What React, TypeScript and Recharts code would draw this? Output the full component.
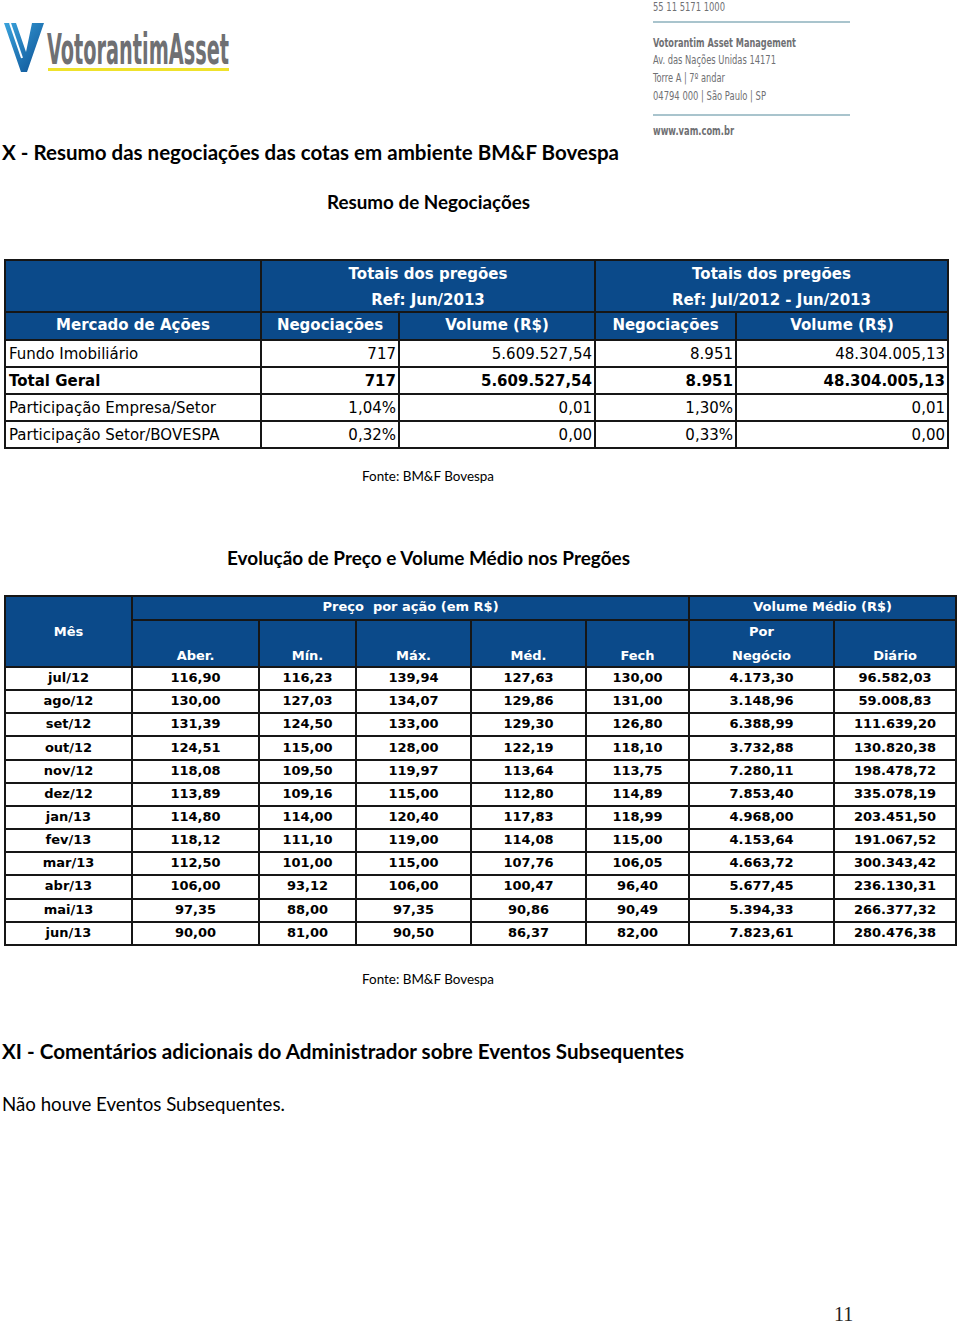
import React from 'react';
import { Surface } from 'recharts';

// --- data ---
const resumoCols = ['Negociações', 'Volume (R$)', 'Negociações', 'Volume (R$)'];
const resumoGroups = [
  ['Totais dos pregões', 'Ref: Jun/2013'],
  ['Totais dos pregões', 'Ref: Jul/2012 - Jun/2013'],
];
const resumoLabels = ['Fundo Imobiliário', 'Total Geral', 'Participação Empresa/Setor', 'Participação Setor/BOVESPA'];
const resumoBold = [false, true, false, false];
const resumoValues = [
  ['717', '5.609.527,54', '8.951', '48.304.005,13'],
  ['717', '5.609.527,54', '8.951', '48.304.005,13'],
  ['1,04%', '0,01', '1,30%', '0,01'],
  ['0,32%', '0,00', '0,33%', '0,00'],
];

const months = ['jul/12', 'ago/12', 'set/12', 'out/12', 'nov/12', 'dez/12', 'jan/13', 'fev/13', 'mar/13', 'abr/13', 'mai/13', 'jun/13'];
const aber = ['116,90', '130,00', '131,39', '124,51', '118,08', '113,89', '114,80', '118,12', '112,50', '106,00', '97,35', '90,00'];
const minimo = ['116,23', '127,03', '124,50', '115,00', '109,50', '109,16', '114,00', '111,10', '101,00', '93,12', '88,00', '81,00'];
const maximo = ['139,94', '134,07', '133,00', '128,00', '119,97', '115,00', '120,40', '119,00', '115,00', '106,00', '97,35', '90,50'];
const medio = ['127,63', '129,86', '129,30', '122,19', '113,64', '112,80', '117,83', '114,08', '107,76', '100,47', '90,86', '86,37'];
const fech = ['130,00', '131,00', '126,80', '118,10', '113,75', '114,89', '118,99', '115,00', '106,05', '96,40', '90,49', '82,00'];
const porNegocio = ['4.173,30', '3.148,96', '6.388,99', '3.732,88', '7.280,11', '7.853,40', '4.968,00', '4.153,64', '4.663,72', '5.677,45', '5.394,33', '7.823,61'];
const diario = ['96.582,03', '59.008,83', '111.639,20', '130.820,38', '198.478,72', '335.078,19', '203.451,50', '191.067,52', '300.343,42', '236.130,31', '266.377,32', '280.476,38'];

const BLUE = '#0b4a8a';
const LINE = '#161616';
const TABLE_FONT = "'DejaVu Sans', Verdana, sans-serif";
const HEAD_FONT = "Lato, 'Open Sans', sans-serif";
const GRAY = '#6f7073';

const cellBase: React.CSSProperties = {
  border: `2px solid ${LINE}`,
  padding: 0,
  whiteSpace: 'pre',
  overflow: 'hidden',
  lineHeight: '18px',
};
const headCell: React.CSSProperties = {
  ...cellBase,
  background: BLUE,
  color: '#fff',
  fontWeight: 'bold',
  textAlign: 'center',
};

function ResumoTable() {
  const widths = [256, 138, 196, 141, 212];
  return (
    <table
      style={{
        position: 'absolute', left: 4, top: 259, width: 943, borderCollapse: 'collapse',
        tableLayout: 'fixed', fontFamily: TABLE_FONT, fontSize: 15,
      }}
    >
      <colgroup>
        {widths.map((w, i) => <col key={i} style={{ width: w }} />)}
      </colgroup>
      <tbody>
        <tr style={{ height: 52 }}>
          <td style={headCell} />
          {resumoGroups.map((g, i) => (
            <td key={i} colSpan={2} style={{ ...headCell, lineHeight: '25px' }}>
              <span style={{ position: 'relative', top: 1 }}>{g[0]}</span><br />
              <span style={{ position: 'relative', top: 2 }}>{g[1]}</span>
            </td>
          ))}
        </tr>
        <tr style={{ height: 28 }}>
          <td style={{ ...headCell, paddingBottom: 3 }}>Mercado de Ações</td>
          {resumoCols.map((c, i) => <td key={i} style={{ ...headCell, paddingBottom: 3 }}>{c}</td>)}
        </tr>
        {resumoLabels.map((label, r) => (
          <tr key={label} style={{ height: 27 }}>
            <td style={{ ...cellBase, paddingLeft: 3, fontWeight: resumoBold[r] ? 'bold' : 'normal' }}>{label}</td>
            {resumoValues[r].map((v, i) => (
              <td key={i} style={{ ...cellBase, textAlign: 'right', paddingRight: 2, fontWeight: resumoBold[r] ? 'bold' : 'normal' }}>{v}</td>
            ))}
          </tr>
        ))}
      </tbody>
    </table>
  );
}

function EvolucaoTable() {
  const widths = [127, 127, 97, 115, 115, 103, 145, 122];
  const cols = [months, aber, minimo, maximo, medio, fech, porNegocio, diario];
  const hc: React.CSSProperties = { ...headCell, verticalAlign: 'bottom', lineHeight: '22px' };
  return (
    <table
      style={{
        position: 'absolute', left: 4, top: 595, width: 951, borderCollapse: 'collapse',
        tableLayout: 'fixed', fontFamily: TABLE_FONT, fontSize: 13,
      }}
    >
      <colgroup>
        {widths.map((w, i) => <col key={i} style={{ width: w }} />)}
      </colgroup>
      <tbody>
        <tr style={{ height: 24 }}>
          <td rowSpan={2} style={headCell}>Mês</td>
          <td colSpan={5} style={{ ...headCell, paddingBottom: 2 }}>{'Preço  por ação (em R$)'}</td>
          <td colSpan={2} style={{ ...headCell, paddingBottom: 2 }}>Volume Médio (R$)</td>
        </tr>
        <tr style={{ height: 47 }}>
          <td style={hc}><span style={{ position: 'relative', top: 1 }}>Aber.</span></td>
          <td style={hc}><span style={{ position: 'relative', top: 1 }}>Mín.</span></td>
          <td style={hc}><span style={{ position: 'relative', top: 1 }}>Máx.</span></td>
          <td style={hc}><span style={{ position: 'relative', top: 1 }}>Méd.</span></td>
          <td style={hc}><span style={{ position: 'relative', top: 1 }}>Fech</span></td>
          <td style={hc}>
            <span style={{ position: 'relative', top: -1 }}>Por</span><br />
            <span style={{ position: 'relative', top: 1 }}>Negócio</span>
          </td>
          <td style={hc}><span style={{ position: 'relative', top: 1 }}>Diário</span></td>
        </tr>
        {months.map((m, r) => (
          <tr key={m} style={{ height: 23.17 }}>
            {cols.map((c, i) => (
              <td key={i} style={{ ...cellBase, textAlign: 'center', fontWeight: 'bold', lineHeight: '16px', paddingBottom: 1 }}>{c[r]}</td>
            ))}
          </tr>
        ))}
      </tbody>
    </table>
  );
}

function Header() {
  return (
    <Surface width={960} height={140} viewBox={{ x: 0, y: 0, width: 960, height: 140 }} style={{ position: 'absolute', left: 0, top: 0 }}>
      <defs>
        <linearGradient id="vgrad" x1="0" y1="0" x2="1" y2="1">
          <stop offset="0%" stopColor="#3aa3dc" />
          <stop offset="100%" stopColor="#0b4f93" />
        </linearGradient>
      </defs>
      <polygon points="4,23 16,23 26,52 32,23 44,23 27,72 21,72" fill="url(#vgrad)" />
      <line x1="10" y1="23" x2="22" y2="58" stroke="#fff" strokeWidth={2} />
      <text x={47} y={64} fontFamily="'Liberation Sans Narrow', 'DejaVu Sans Condensed', sans-serif" fontWeight="bold" fontSize={42} fill={GRAY} textLength={182} lengthAdjust="spacingAndGlyphs">VotorantimAsset</text>
      <rect x={48} y={68} width={181} height={3} fill="#efe22c" />

      <g fontFamily="'Liberation Sans Narrow', 'DejaVu Sans Condensed', sans-serif" fontSize={13} fill={GRAY}>
        <text x={653} y={11} textLength={72} lengthAdjust="spacingAndGlyphs">55 11 5171 1000</text>
        <text x={653} y={47} fontWeight="bold" textLength={143} lengthAdjust="spacingAndGlyphs">Votorantim Asset Management</text>
        <text x={653} y={64} textLength={123} lengthAdjust="spacingAndGlyphs">Av. das Nações Unidas 14171</text>
        <text x={653} y={82} textLength={72} lengthAdjust="spacingAndGlyphs">Torre A | 7º andar</text>
        <text x={653} y={100} textLength={113} lengthAdjust="spacingAndGlyphs">04794 000 | São Paulo | SP</text>
        <text x={653} y={135} fontWeight="bold" textLength={81} lengthAdjust="spacingAndGlyphs">www.vam.com.br</text>
      </g>
      <line x1={653} y1={22} x2={850} y2={22} stroke="#8db0bc" strokeWidth={1.5} />
      <line x1={653} y1={115} x2={850} y2={115} stroke="#8db0bc" strokeWidth={1.5} />
    </Surface>
  );
}

function PageText() {
  return (
    <svg width={960} height={1324} style={{ position: 'absolute', left: 0, top: 0, pointerEvents: 'none' }}>
      <g fontFamily={HEAD_FONT} fill="#000">
        <text x={2} y={160} fontSize={20} fontWeight="bold" textLength={617} lengthAdjust="spacingAndGlyphs">X - Resumo das negociações das cotas em ambiente BM&amp;F Bovespa</text>
        <text x={327} y={209} fontSize={18} fontWeight="bold" textLength={203} lengthAdjust="spacingAndGlyphs">Resumo de Negociações</text>
        <text x={362} y={481} fontSize={13} textLength={132} lengthAdjust="spacingAndGlyphs">Fonte: BM&amp;F Bovespa</text>
        <text x={227} y={565} fontSize={19} fontWeight="bold" textLength={403} lengthAdjust="spacingAndGlyphs">Evolução de Preço e Volume Médio nos Pregões</text>
        <text x={362} y={984} fontSize={13} textLength={132} lengthAdjust="spacingAndGlyphs">Fonte: BM&amp;F Bovespa</text>
        <text x={2} y={1059} fontSize={20} fontWeight="bold" textLength={682} lengthAdjust="spacingAndGlyphs">XI - Comentários adicionais do Administrador sobre Eventos Subsequentes</text>
        <text x={2} y={1111} fontSize={19} textLength={283} lengthAdjust="spacingAndGlyphs">Não houve Eventos Subsequentes.</text>
      </g>
      <text x={834} y={1321} fontFamily="'Liberation Serif', 'DejaVu Serif', serif" fontSize={20} fill="#222">11</text>
    </svg>
  );
}

export default function App() {
  return (
    <div style={{ position: 'absolute', left: 0, top: 0, width: 960, height: 1324, background: '#fff', overflow: 'hidden' }}>
      <Header />
      <ResumoTable />
      <EvolucaoTable />
      <PageText />
    </div>
  );
}
